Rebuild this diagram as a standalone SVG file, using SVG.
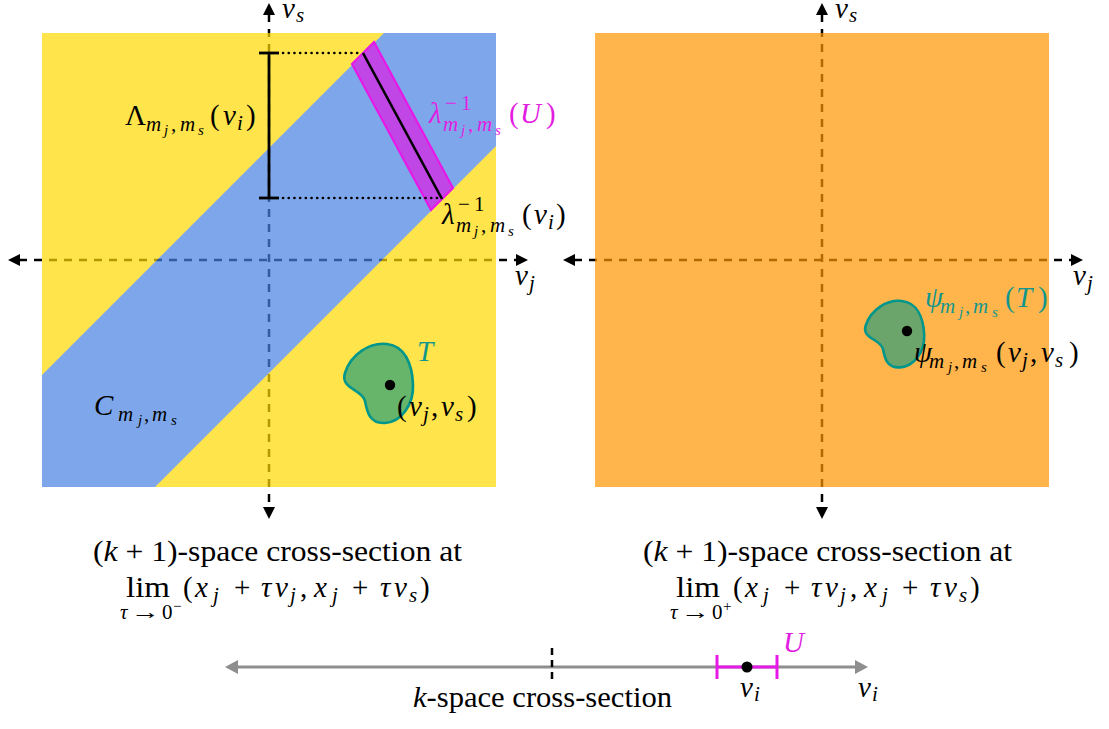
<svg xmlns="http://www.w3.org/2000/svg" width="1109" height="729" viewBox="0 0 1109 729" font-family="'Liberation Serif', serif">
<defs>
<style>
text{font-family:'Liberation Serif',serif;font-size:29px;fill:#000}
.it{font-style:italic}
.sb{font-size:21px}
.ss{font-size:15px}
.mag{fill:#E21CE2}
.teal{fill:#12968C}
.axis{stroke:#000;stroke-width:2.5;stroke-dasharray:8 7;fill:none}
.ah{fill:#000}
.blob{fill:#67B56B;stroke:#00968C;stroke-width:2.6}
.dotted{stroke:#000;stroke-width:2.6;stroke-dasharray:0.1 5.6;stroke-linecap:round;fill:none}
.bar{stroke:#000;stroke-width:2.8;fill:none}
.gray{stroke:#8E8E8E;stroke-width:3;fill:none}
.magl{stroke:#E619E6;stroke-width:3;fill:none}
</style>
</defs>
<rect width="1109" height="729" fill="#fff"/>

<g id="connectors">
  <line class="axis" x1="269" y1="14" x2="269" y2="508"/>
  <line class="axis" x1="19" y1="260" x2="517" y2="260"/>
  <polygon class="ah" points="269,3 263,15 275,15"/>
  <polygon class="ah" points="269,519 263,507 275,507"/>
  <polygon class="ah" points="8,260 20,254 20,266"/>
  <polygon class="ah" points="528,260 516,254 516,266"/>
  <line class="axis" x1="822" y1="14" x2="822" y2="508"/>
  <line class="axis" x1="574" y1="260" x2="1072" y2="260"/>
  <polygon class="ah" points="822,3 816,15 828,15"/>
  <polygon class="ah" points="822,519 816,507 828,507"/>
  <polygon class="ah" points="563,260 575,254 575,266"/>
  <polygon class="ah" points="1083,260 1071,254 1071,266"/>
  <line class="gray" x1="236" y1="667" x2="857" y2="667"/>
  <polygon fill="#8E8E8E" points="225,667 238,660 238,674"/>
  <polygon fill="#8E8E8E" points="868,667 855,660 855,674"/>
  <line x1="552" y1="648" x2="552" y2="683" stroke="#000" stroke-width="2.5" stroke-dasharray="7 5"/>
</g>

<g id="panel-left" opacity="0.7">
  <rect x="42" y="33" width="454" height="454" fill="#FFD900"/>
  <polygon points="384,33 496,33 496,146 155,487 42,487 42,375" fill="#4783E2"/>
</g>

<g id="panel-right" opacity="0.7">
  <rect x="595" y="33" width="454" height="454" fill="#FF9500"/>
</g>

<g id="lambda-inv-U">
  <polygon points="352,64 374,42 453,188 431,210" fill="#C146E6" stroke="#E619E6" stroke-width="2.2"/>
  <line x1="363" y1="53" x2="442" y2="199" stroke="#000" stroke-width="2.6"/>
  <text class="mag"><tspan class="it" x="429" y="123">λ</tspan><tspan class="sb" x="445" y="110">−</tspan><tspan class="sb" x="461" y="110">1</tspan><tspan class="it sb" x="443" y="131">m</tspan><tspan class="it ss" x="461" y="135">j</tspan><tspan class="sb" x="468" y="131">,</tspan><tspan class="it sb" x="477" y="131">m</tspan><tspan class="it ss" x="495" y="135">s</tspan><tspan x="509" y="123">(</tspan><tspan class="it" x="520" y="123">U</tspan><tspan x="546" y="123">)</tspan></text>
</g>

<g id="Lambda-bar">
  <line class="dotted" x1="283" y1="53" x2="360" y2="53"/>
  <line class="dotted" x1="283" y1="198" x2="440" y2="198"/>
  <line class="bar" x1="269" y1="53" x2="269" y2="198"/>
  <line class="bar" x1="259" y1="53" x2="279" y2="53"/>
  <line class="bar" x1="259" y1="198" x2="279" y2="198"/>
  <text><tspan x="125" y="125">Λ</tspan><tspan class="it sb" x="146" y="131">m</tspan><tspan class="it ss" x="164" y="135">j</tspan><tspan class="sb" x="171" y="131">,</tspan><tspan class="it sb" x="180" y="131">m</tspan><tspan class="it ss" x="198" y="135">s</tspan><tspan x="210" y="125">(</tspan><tspan class="it" x="223" y="125">v</tspan><tspan class="it sb" x="237" y="130">i</tspan><tspan x="246" y="125">)</tspan></text>
</g>

<g id="lambda-inv-vi">
  <text><tspan class="it" x="442" y="224">λ</tspan><tspan class="sb" x="458" y="211">−</tspan><tspan class="sb" x="474" y="211">1</tspan><tspan class="it sb" x="456" y="232">m</tspan><tspan class="it ss" x="474" y="236">j</tspan><tspan class="sb" x="481" y="232">,</tspan><tspan class="it sb" x="490" y="232">m</tspan><tspan class="it ss" x="508" y="236">s</tspan><tspan x="522" y="224">(</tspan><tspan class="it" x="534" y="224">v</tspan><tspan class="it sb" x="548" y="229">i</tspan><tspan x="556" y="224">)</tspan></text>
</g>

<g id="label-C">
  <text><tspan class="it" x="94" y="415">C</tspan><tspan class="it sb" x="118" y="421">m</tspan><tspan class="it ss" x="138" y="425">j</tspan><tspan class="sb" x="144" y="421">,</tspan><tspan class="it sb" x="152" y="421">m</tspan><tspan class="it ss" x="171" y="425">s</tspan></text>
</g>

<g id="set-T">
  <path class="blob" d="M345,373 C351,354 370,342 387,344 C405,346 412,364 413,384 C414,405 401,422 385,423 C369,424 367,411 365,401 C362,389 340,389 345,373 Z"/>
  <circle cx="390" cy="385" r="5.2" fill="#000"/>
  <text class="it teal" x="417" y="361">T</text>
  <text><tspan x="397" y="416">(</tspan><tspan class="it" x="409" y="416">v</tspan><tspan class="it sb" x="423" y="421">j</tspan><tspan x="431" y="416">,</tspan><tspan class="it" x="441" y="416">v</tspan><tspan class="it sb" x="455" y="421">s</tspan><tspan x="467" y="416">)</tspan></text>
</g>

<g id="set-psiT">
  <path class="blob" style="fill:#6BA56B" vector-effect="non-scaling-stroke" transform="translate(864,301) scale(0.86,0.84) translate(-343,-344)" d="M345,373 C351,354 370,342 387,344 C405,346 412,364 413,384 C414,405 401,422 385,423 C369,424 367,411 365,401 C362,389 340,389 345,373 Z"/>
  <circle cx="907" cy="331" r="5.2" fill="#000"/>
  <text class="teal"><tspan class="it" x="925" y="307">ψ</tspan><tspan class="it sb" x="940" y="313">m</tspan><tspan class="it ss" x="959" y="317">j</tspan><tspan class="sb" x="965" y="313">,</tspan><tspan class="it sb" x="973" y="313">m</tspan><tspan class="it ss" x="992" y="317">s</tspan><tspan x="1005" y="307">(</tspan><tspan class="it" x="1016" y="307">T</tspan><tspan x="1038" y="307">)</tspan></text>
  <text><tspan class="it" x="914" y="362">ψ</tspan><tspan class="it sb" x="929" y="368">m</tspan><tspan class="it ss" x="948" y="372">j</tspan><tspan class="sb" x="954" y="368">,</tspan><tspan class="it sb" x="962" y="368">m</tspan><tspan class="it ss" x="981" y="372">s</tspan><tspan x="996" y="362">(</tspan><tspan class="it" x="1008" y="362">v</tspan><tspan class="it sb" x="1022" y="367">j</tspan><tspan x="1030" y="362">,</tspan><tspan class="it" x="1041" y="362">v</tspan><tspan class="it sb" x="1055" y="367">s</tspan><tspan x="1069" y="362">)</tspan></text>
</g>

<g id="axis-labels">
  <text><tspan class="it" x="282" y="18">v</tspan><tspan class="it sb" x="296" y="22">s</tspan></text>
  <text><tspan class="it" x="835" y="18">v</tspan><tspan class="it sb" x="849" y="22">s</tspan></text>
  <text><tspan class="it" x="515" y="285">v</tspan><tspan class="it sb" x="529" y="290">j</tspan></text>
  <text><tspan class="it" x="1073" y="285">v</tspan><tspan class="it sb" x="1087" y="290">j</tspan></text>
</g>

<g id="caption-left">
  <text x="93" y="561" textLength="369" lengthAdjust="spacingAndGlyphs">(<tspan class="it">k</tspan> + 1)-space cross-section at</text>
  <text x="126" y="597" textLength="44" lengthAdjust="spacingAndGlyphs">lim</text>
  <text class="it sb" x="120" y="619">τ</text>
  <text class="sb" x="131" y="619" textLength="29" lengthAdjust="spacingAndGlyphs">→</text>
  <text class="sb" x="162" y="619">0</text>
  <text class="ss" x="173" y="611">−</text>
  <text><tspan x="183" y="597">(</tspan><tspan class="it" x="195" y="597">x</tspan><tspan class="it sb" x="213" y="602">j</tspan><tspan x="234" y="597">+</tspan><tspan class="it" x="261" y="597">τ</tspan><tspan class="it" x="275" y="597">v</tspan><tspan class="it sb" x="290" y="602">j</tspan><tspan x="300" y="597">,</tspan><tspan class="it" x="314" y="597">x</tspan><tspan class="it sb" x="332" y="602">j</tspan><tspan x="352" y="597">+</tspan><tspan class="it" x="380" y="597">τ</tspan><tspan class="it" x="394" y="597">v</tspan><tspan class="it sb" x="409" y="602">s</tspan><tspan x="420" y="597">)</tspan></text>
</g>

<g id="caption-right">
  <text x="643" y="561" textLength="369" lengthAdjust="spacingAndGlyphs">(<tspan class="it">k</tspan> + 1)-space cross-section at</text>
  <text x="676" y="597" textLength="44" lengthAdjust="spacingAndGlyphs">lim</text>
  <text class="it sb" x="670" y="619">τ</text>
  <text class="sb" x="681" y="619" textLength="29" lengthAdjust="spacingAndGlyphs">→</text>
  <text class="sb" x="712" y="619">0</text>
  <text class="ss" x="723" y="611">+</text>
  <text><tspan x="733" y="597">(</tspan><tspan class="it" x="745" y="597">x</tspan><tspan class="it sb" x="763" y="602">j</tspan><tspan x="784" y="597">+</tspan><tspan class="it" x="811" y="597">τ</tspan><tspan class="it" x="825" y="597">v</tspan><tspan class="it sb" x="840" y="602">j</tspan><tspan x="850" y="597">,</tspan><tspan class="it" x="864" y="597">x</tspan><tspan class="it sb" x="882" y="602">j</tspan><tspan x="902" y="597">+</tspan><tspan class="it" x="930" y="597">τ</tspan><tspan class="it" x="944" y="597">v</tspan><tspan class="it sb" x="959" y="602">s</tspan><tspan x="970" y="597">)</tspan></text>
</g>

<g id="interval-U">
  <line class="magl" x1="717" y1="667" x2="777" y2="667"/>
  <line class="magl" x1="717" y1="655" x2="717" y2="679"/>
  <line class="magl" x1="777" y1="655" x2="777" y2="679"/>
  <circle cx="747" cy="667" r="5.5" fill="#000"/>
  <text class="it mag" x="783" y="652">U</text>
  <text><tspan class="it" x="740" y="697">v</tspan><tspan class="it sb" x="754" y="701">i</tspan></text>
</g>

<g id="kspace-labels">
  <text><tspan class="it" x="858" y="697">v</tspan><tspan class="it sb" x="872" y="701">i</tspan></text>
  <text x="413" y="707" textLength="259" lengthAdjust="spacingAndGlyphs"><tspan class="it">k</tspan>-space cross-section</text>
</g>
</svg>
